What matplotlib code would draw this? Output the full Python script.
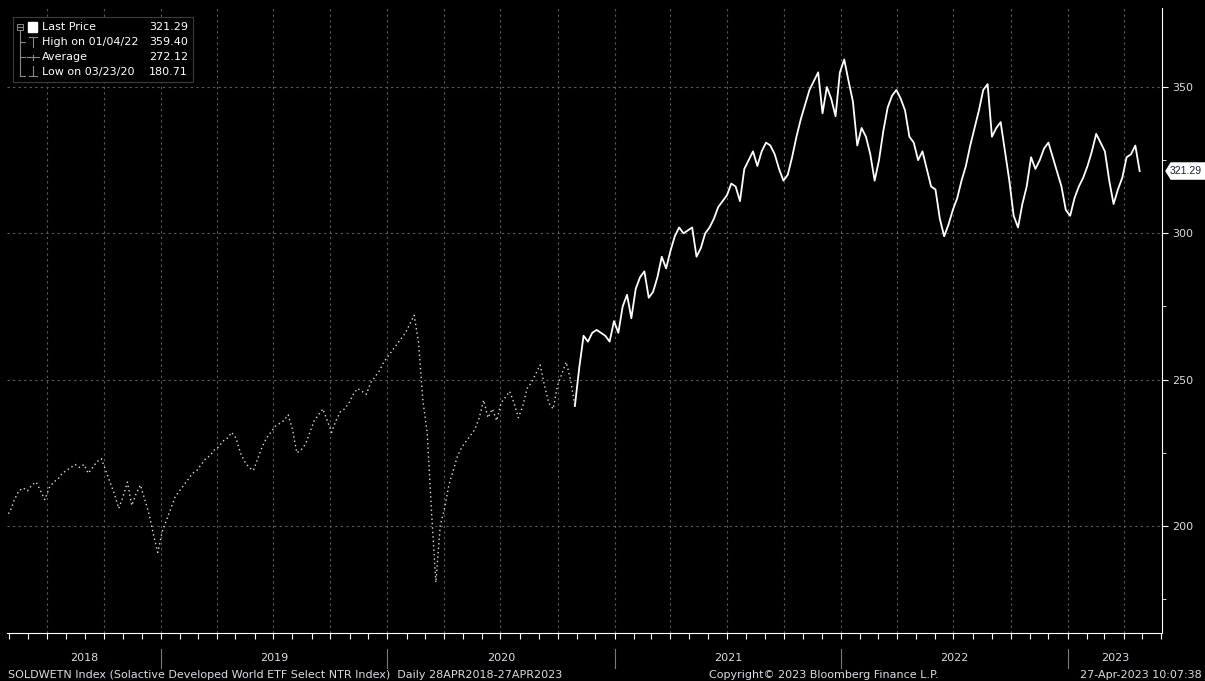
import numpy as np
import pandas as pd
import matplotlib
matplotlib.use('Agg')
import matplotlib.pyplot as plt
import matplotlib.dates as mdates
import matplotlib.transforms as mtransforms
from matplotlib.lines import Line2D
from matplotlib.patches import Rectangle, Polygon

# weekly closes, SOLDWETN Index
vals_2018 = [203, 205, 209, 212, 213, 212, 214, 215, 212, 209,
             213, 215, 216, 218, 219, 220, 221, 220, 221, 218,
             220, 222, 223, 219, 215, 211, 206, 210, 215, 207,
             211, 214, 209, 204, 197, 191]
vals_2019 = [198, 202, 206, 210, 212, 214, 216, 218, 219, 221,
             223, 224, 226, 227, 229, 230, 232, 230, 225, 222,
             220, 219, 223, 227, 230, 232, 234, 235, 236, 238,
             233, 225, 226, 228, 232, 236, 238, 240, 236, 232,
             236, 239, 240, 242, 245, 247, 246, 245, 249, 251,
             253, 256]
vals_2020 = [258, 260, 262, 264, 266, 269, 272, 263, 243, 232,
             205, 180.71, 200, 206, 214, 219, 224, 227, 229, 231,
             233, 237, 243, 237, 240, 236, 242, 244, 246, 242,
             237, 241, 247, 249, 252, 255, 248, 242, 240, 248,
             252, 256, 250, 241, 254, 265, 263, 266, 267, 266,
             265, 263]
vals_2021 = [270, 266, 275, 279, 271, 281, 285, 287, 278, 280,
             285, 292, 288, 294, 299, 302, 300, 301, 302, 292,
             295, 300, 302, 305, 309, 311, 313, 317, 316, 311,
             322, 325, 328, 323, 328, 331, 330, 327, 322, 318,
             320, 326, 333, 339, 344, 349, 352, 355, 341, 350,
             346, 340]
vals_2022 = [355, 359.40, 352, 345, 330, 336, 333, 327, 318, 325,
             335, 343, 347, 349, 346, 342, 333, 331, 325, 328,
             322, 316, 315, 305, 299, 303, 308, 312, 318, 323,
             330, 336, 342, 349, 351, 333, 336, 338, 328, 318,
             306, 302, 310, 316, 326, 322, 325, 329, 331, 326,
             321, 316]
vals_2023 = [308, 306, 312, 316, 319, 323, 328, 334, 331, 328,
             318, 310, 315, 319, 326, 327, 330, 321.29]

prices = np.array(vals_2018 + vals_2019 + vals_2020 + vals_2021 + vals_2022 + vals_2023)
dates = pd.date_range(end='2023-04-27', periods=len(prices), freq='7D')
split = 131   # end of Oct 2020, where the chart turns from dotted to solid

legend_rows = [('Last Price', '321.29'), ('High on 01/04/22', '359.40'),
               ('Average', '272.12'), ('Low on 03/23/20', '180.71')]
years = [2018, 2019, 2020, 2021, 2022, 2023]
last_price = 321.29

W, H = 1205, 681
def fx(px):
    return px / W
def fy(py):
    return 1 - py / H

plt.rcParams['font.family'] = ['DejaVu Sans']
txt = '#d8dce2'
fig = plt.figure(figsize=(W / 100, H / 100), dpi=100, facecolor='black')
ax = fig.add_axes([fx(7), fy(633), fx(1162) - fx(7), fy(8) - fy(633)], facecolor='black')

x0 = mdates.date2num(pd.Timestamp('2018-04-28'))
x1 = mdates.date2num(pd.Timestamp('2023-06-02'))
ax.set_xlim(x0, x1)
ax.set_ylim(163.44, 376.99)

# grid
for q in pd.date_range('2018-07-01', '2023-04-01', freq='QS'):
    ax.axvline(q, color='#5c5c5c', lw=0.8, ls=(0, (2, 3)), zorder=0)
for yv in [200, 250, 300, 350]:
    ax.axhline(yv, color='#5c5c5c', lw=0.8, ls=(0, (2, 3)), zorder=0)

# series
ax.plot(dates[:split + 1], prices[:split + 1], color='#dcdcdc', lw=1.0, ls=(0, (1, 2.2)))
ax.plot(dates[split:], prices[split:], color='white', lw=1.3)

# axes
for s in ['top', 'left']:
    ax.spines[s].set_visible(False)
ax.spines['bottom'].set_color('white')
ax.spines['right'].set_color('white')
ax.yaxis.tick_right()
ax.set_yticks([200, 250, 300, 350])
ax.set_yticks([175, 225, 275, 325], minor=True)
ax.tick_params(axis='y', which='major', colors='white', labelcolor=txt, labelsize=8, length=4, pad=3)
ax.tick_params(axis='y', which='minor', colors='white', length=3)
ax.xaxis.set_major_locator(mdates.MonthLocator())
ax.tick_params(axis='x', which='major', colors='white', length=4, labelbottom=False)

# year labels and separators under the axis
blend = mtransforms.blended_transform_factory(ax.transData, ax.transAxes)
for yr in years:
    a = max(mdates.date2num(pd.Timestamp(f'{yr}-01-01')), x0)
    b = min(mdates.date2num(pd.Timestamp(f'{yr + 1}-01-01')), x1)
    ax.text((a + b) / 2, -0.040, str(yr), transform=blend, ha='center', va='center',
            color=txt, fontsize=8)
    if yr > 2018:
        ax.plot([a, a], [-0.026, -0.056], transform=blend, color='#7a7a7a', lw=0.8, clip_on=False)

# footer
fig.text(fx(8), fy(675), 'SOLDWETN Index (Solactive Developed World ETF Select NTR Index)  Daily 28APR2018-27APR2023',
         ha='left', va='center', color=txt, fontsize=8)
fig.text(fx(824), fy(675), 'Copyright\u00a9 2023 Bloomberg Finance L.P.', ha='center', va='center',
         color=txt, fontsize=8)
fig.text(fx(1202), fy(675), '27-Apr-2023 10:07:38', ha='right', va='center', color=txt, fontsize=8)

# last price tag on the right axis
tag = mtransforms.blended_transform_factory(fig.transFigure, ax.transData)
h = 2.75
poly = Polygon([(fx(1166), last_price), (fx(1171), last_price + h), (fx(1210), last_price + h),
                (fx(1210), last_price - h), (fx(1171), last_price - h)],
               closed=True, transform=tag, facecolor='white', edgecolor='white', clip_on=False)
ax.add_patch(poly)
ax.text(fx(1170), last_price, f'{last_price:.2f}', transform=tag, ha='left', va='center',
        color='#13213a', fontsize=7.5, family=['Liberation Sans', 'DejaVu Sans'], clip_on=False)

# legend box
fig.add_artist(Rectangle((fx(13), fy(82)), fx(193) - fx(13), fy(17) - fy(82), transform=fig.transFigure,
                         facecolor='black', edgecolor='#3c3c3c', lw=0.8))
row_y = [27, 42, 57, 72]
for (label, value), py in zip(legend_rows, row_y):
    fig.text(fx(42), fy(py), label, ha='left', va='center', color='white', fontsize=8)
    fig.text(fx(188), fy(py), value, ha='right', va='center', color='white', fontsize=8)

gray = '#8a8a8a'
def seg(xa, ya, xb, yb, c=gray, lw=0.8):
    fig.add_artist(Line2D([fx(xa), fx(xb)], [fy(ya), fy(yb)], transform=fig.transFigure, color=c, lw=lw))

# tree, collapse box
fig.add_artist(Rectangle((fx(17), fy(30)), fx(6), fy(24) - fy(30), transform=fig.transFigure,
                         facecolor='none', edgecolor=gray, lw=0.7))
seg(18, 27, 22, 27)
seg(20, 30, 20, 76)
for py in row_y[1:]:
    seg(20, py + 4 if py == 72 else py, 25, py + 4 if py == 72 else py)
fig.add_artist(Rectangle((fx(28), fy(32)), fx(9), fy(22) - fy(32), transform=fig.transFigure,
                         facecolor='white', edgecolor='white'))
# high marker
seg(29, 37, 37, 37)
seg(33, 37, 33, 47)
# average marker
seg(27, 57, 39, 57)
seg(33, 54.5, 33, 59.5)
# low marker
seg(33, 66, 33, 76)
seg(29, 76, 37, 76)

fig.savefig('out.png', dpi=100, facecolor='black')
